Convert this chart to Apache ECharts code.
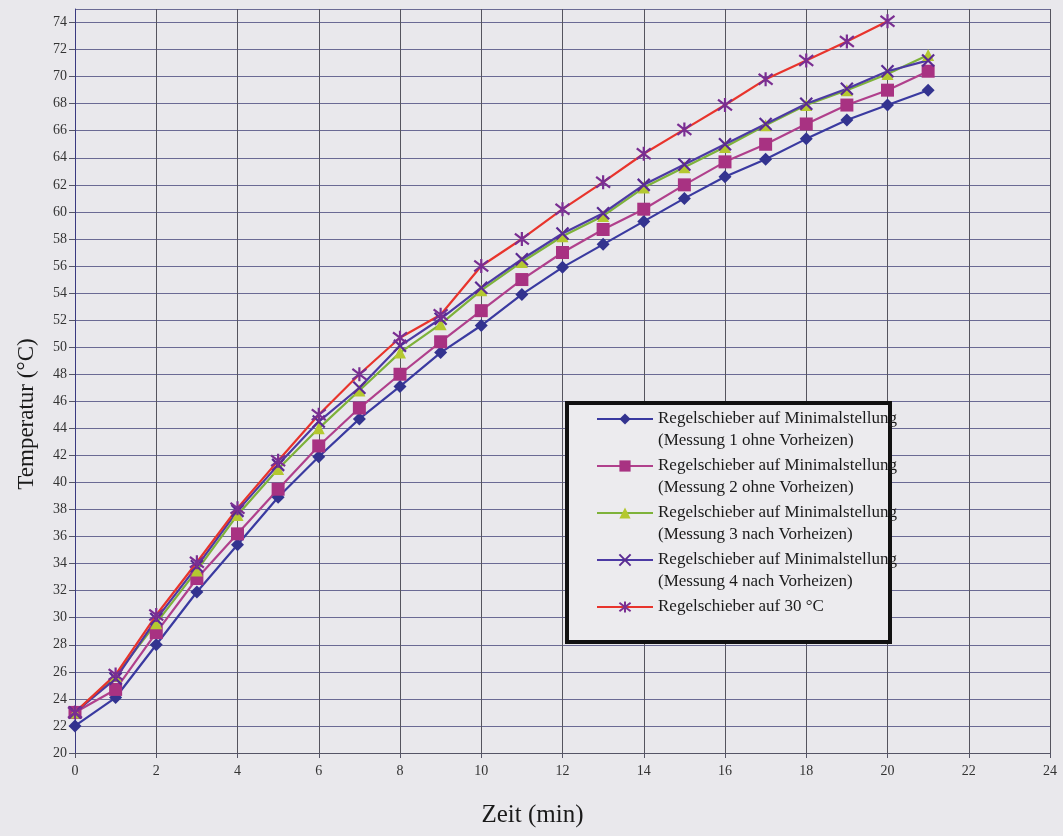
<!DOCTYPE html>
<html><head><meta charset="utf-8">
<script src="https://cdn.jsdelivr.net/npm/echarts@6/dist/echarts.min.js"></script>
<style>html,body{margin:0;padding:0;background:#e9e8ec}#c{width:1063px;height:836px}</style>
</head><body><div id="c"></div>
<script>
const minutes = [0,1,2,3,4,5,6,7,8,9,10,11,12,13,14,15,16,17,18,19,20,21];
const messung1 = [22.0,24.1,28.0,31.9,35.4,38.9,41.9,44.7,47.1,49.6,51.6,53.9,55.9,57.6,59.3,61.0,62.6,63.9,65.4,66.8,67.9,69.0];
const messung2 = [23.0,24.7,28.9,32.9,36.2,39.5,42.7,45.5,48.0,50.4,52.7,55.0,57.0,58.7,60.2,62.0,63.7,65.0,66.5,67.9,69.0,70.4];
const messung3 = [23.0,25.7,29.6,33.5,37.6,41.0,44.0,46.8,49.6,51.7,54.2,56.3,58.2,59.7,61.8,63.3,64.8,66.4,67.9,69.0,70.2,71.6];
const messung4 = [23.0,25.5,29.9,33.8,37.9,41.3,44.5,47.0,50.1,52.1,54.4,56.5,58.4,59.9,62.0,63.5,65.0,66.5,68.0,69.1,70.4,71.2];
const schieber30 = [23.0,25.8,30.2,34.1,38.1,41.6,45.0,48.0,50.7,52.4,56.0,58.0,60.2,62.2,64.3,66.1,67.9,69.8,71.2,72.6,74.1];
const seriesNames = [
  'Regelschieber auf Minimalstellung\n(Messung 1 ohne Vorheizen)',
  'Regelschieber auf Minimalstellung\n(Messung 2 ohne Vorheizen)',
  'Regelschieber auf Minimalstellung\n(Messung 3 nach Vorheizen)',
  'Regelschieber auf Minimalstellung\n(Messung 4 nach Vorheizen)',
  'Regelschieber auf 30 °C'
];
const xTitle = 'Zeit (min)';
const yTitle = 'Temperatur (°C)';

const pairs = arr => arr.map((v,i)=>[minutes[i], v]);
const SERIF = '"Liberation Serif","DejaVu Serif",serif';
const xPath = 'path://M0,0L10,10M10,0L0,10';
const starPath = 'path://M0,0L10,10M10,0L0,10M5,-1.5L5,11.5';

function mk(name, data, lineColor, symbol, size, markerColor, stroke) {
  return {
    name, type:'line', data: pairs(data), symbol, symbolSize: size,
    lineStyle:{color: lineColor, width: 2.2},
    itemStyle: stroke ? {color: markerColor, borderColor: markerColor, borderWidth: 2.2}
                      : {color: markerColor, borderWidth: 0},
    color: lineColor,
    emphasis:{disabled:true}, z: 2
  };
}

const chart = echarts.init(document.getElementById('c'));
chart.setOption({
  backgroundColor: '#e9e8ec',
  animation: false,
  grid: {left: 75, right: 13, top: 9, bottom: 83},
  xAxis: {
    type:'value', min:0, max:24, interval:2,
    name: xTitle, nameLocation:'middle', nameGap: 50,
    nameTextStyle:{fontFamily:SERIF, fontSize:25, color:'#1a1a1a', padding:[0,60,0,0]},
    axisLine:{show:true, lineStyle:{color:'#555566', width:1}},
    axisTick:{show:true, length:5, lineStyle:{color:'#555566'}},
    axisLabel:{fontFamily:SERIF, fontSize:14, color:'#333', margin:11},
    splitLine:{show:true, lineStyle:{color:'#55545e', width:1}}
  },
  yAxis: {
    type:'value', min:20, max:75, interval:2,
    name: yTitle, nameLocation:'middle', nameGap: 37,
    nameTextStyle:{fontFamily:SERIF, fontSize:23, color:'#1a1a1a', padding:[0,0,0,-66]},
    axisLine:{show:true, lineStyle:{color:'#3a3a80', width:1}},
    axisTick:{show:true, length:6, lineStyle:{color:'#555566'}},
    axisLabel:{fontFamily:SERIF, fontSize:14, color:'#333', margin:8},
    splitLine:{show:true, lineStyle:{color:'#6a6a94', width:1}}
  },
  legend: {
    orient:'vertical', left: 591, top: 381, z: 6,
    itemWidth: 56, itemHeight: 14, itemGap: -19,
    data: seriesNames,
    formatter: name => {
      const lines = name.split('\n');
      if (lines.length < 2) lines.push(' ');
      return ' \n' + lines.join('\n');
    },
    textStyle:{fontFamily:SERIF, fontSize:17, color:'#1a1a1a', lineHeight:22},
    selectedMode:false
  },
  graphic: [{
    type:'rect', left: 565, top: 401, z: 5,
    shape:{width: 323, height: 239},
    style:{fill:'#ecebee', stroke:'#111', lineWidth:4}
  }],
  series: [
    mk(seriesNames[0], messung1, '#3a3aa0', 'diamond', 13, '#33338f', false),
    mk(seriesNames[1], messung2, '#b0408c', 'rect', 13, '#a83282', false),
    mk(seriesNames[2], messung3, '#7eb23a', 'triangle', 12, '#b4c830', false),
    mk(seriesNames[3], messung4, '#4c3aa4', xPath, 12, '#5a2a92', true),
    mk(seriesNames[4], schieber30, '#e8342c', starPath, 14, '#7a2e92', true)
  ]
});
</script></body></html>
